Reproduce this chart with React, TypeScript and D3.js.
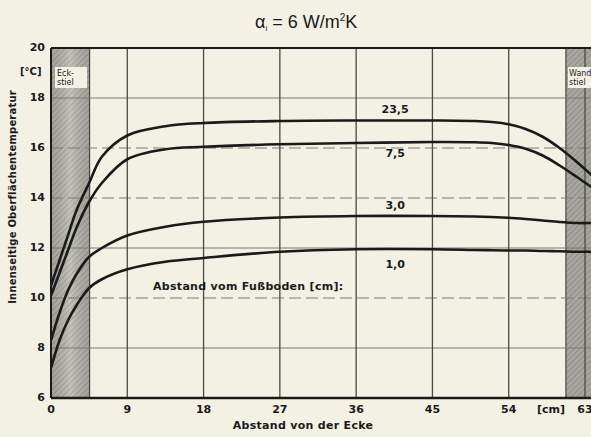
import * as d3 from "d3";

// Abstand von der Ecke [cm]
const xCm = [0, 1, 2, 3, 4.5, 6, 9, 13.5, 18, 27, 36, 45, 50, 52, 54, 56, 58, 60, 62, 64];
// Oberflächentemperatur [°C] je Abstand vom Fußboden
const t235 = [10.5, 11.5, 12.5, 13.5, 14.6, 15.65, 16.5, 16.87, 17.0, 17.08, 17.1, 17.1, 17.08, 17.04, 16.95, 16.76, 16.45, 16.0, 15.45, 14.85];
const t75 = [10.1, 11.0, 11.9, 12.8, 13.85, 14.6, 15.55, 15.95, 16.05, 16.15, 16.2, 16.24, 16.23, 16.2, 16.12, 15.97, 15.7, 15.3, 14.85, 14.38];
const t30 = [8.3, 9.4, 10.3, 10.95, 11.65, 12.0, 12.5, 12.85, 13.05, 13.22, 13.28, 13.28, 13.26, 13.24, 13.21, 13.16, 13.1, 13.04, 13.0, 13.0];
const t10 = [7.2, 8.3, 9.1, 9.7, 10.4, 10.75, 11.15, 11.45, 11.6, 11.85, 11.95, 11.95, 11.92, 11.91, 11.9, 11.9, 11.88, 11.87, 11.85, 11.85];
const seriesNames = ["23,5", "7,5", "3,0", "1,0"];
const seriesValues = [t235, t75, t30, t10];

const xTicks = [0, 9, 18, 27, 36, 45, 54, 63];
const yTicks = [6, 8, 10, 12, 14, 16, 18, 20];
const dashedY = [16, 14, 10];

const W = 591;
const H = 437;
const bg = "#f3f1e4";
const ink = "#1a1a1a";
const font = "'DejaVu Sans', 'Liberation Sans', sans-serif";

const x = d3.scaleLinear().domain([0, 63]).range([51, 585]);
const y = d3.scaleLinear().domain([6, 20]).range([398, 48]);

const labelOffsets = [-11, 11, -10, 16];

export default function App() {
  const line = d3
    .line<number>()
    .x((_, i) => x(xCm[i]))
    .y(d => y(d))
    .curve(d3.curveCatmullRom.alpha(0.5));

  const left = x(0);
  const eckEnd = x(4.55);
  const wandStart = x(60.75);

  return (
    <svg
      width={W}
      height={H}
      style={{ position: "absolute", left: 0, top: 0, background: bg }}
      fontFamily={font}
    >
      <defs>
        <pattern id="hatch" width="4" height="4" patternUnits="userSpaceOnUse" patternTransform="rotate(45)">
          <rect width="4" height="4" fill="#b6b5ad" />
          <line x1="0" y1="0" x2="0" y2="4" stroke="#807f78" strokeWidth="1" />
        </pattern>
        <linearGradient id="shade" x1="0" x2="1" y1="0" y2="0">
          <stop offset="0" stopColor="#000" stopOpacity="0.1" />
          <stop offset="0.5" stopColor="#fff" stopOpacity="0.18" />
          <stop offset="1" stopColor="#000" stopOpacity="0.1" />
        </linearGradient>
        <clipPath id="plot">
          <rect x={left} y={y(20)} width={W - left} height={y(6) - y(20)} />
        </clipPath>
      </defs>

      {/* title */}
      <text x={255} y={28} fontSize={18} fontFamily="'Liberation Sans', sans-serif" fill={ink}>
        α<tspan fontSize={8} dy={3}>i</tspan>
        <tspan dy={-3}> = 6 W/m</tspan>
        <tspan fontSize={10} dy={-7}>2</tspan>
        <tspan dy={7}>K</tspan>
      </text>

      {/* shaded post areas */}
      <rect x={left} y={y(20)} width={eckEnd - left} height={y(6) - y(20)} fill="url(#hatch)" />
      <rect x={left} y={y(20)} width={eckEnd - left} height={y(6) - y(20)} fill="url(#shade)" />
      <rect x={wandStart} y={y(20)} width={W - wandStart} height={y(6) - y(20)} fill="url(#hatch)" />
      <rect x={wandStart} y={y(20)} width={W - wandStart} height={y(6) - y(20)} fill="#000" opacity={0.08} />
      <line x1={eckEnd} x2={eckEnd} y1={y(20)} y2={y(6)} stroke="#444" strokeWidth={1.2} />
      <line x1={wandStart} x2={wandStart} y1={y(20)} y2={y(6)} stroke="#444" strokeWidth={1.2} />

      {/* horizontal grid */}
      {yTicks.slice(1, -1).map(t => (
        <line
          key={`h${t}`}
          x1={left}
          x2={W}
          y1={y(t)}
          y2={y(t)}
          stroke="#7a7973"
          strokeWidth={1}
          strokeDasharray={dashedY.includes(t) ? "12 5" : undefined}
        />
      ))}

      {/* vertical grid */}
      {xTicks.slice(1).map(t => (
        <line key={`v${t}`} x1={x(t)} x2={x(t)} y1={y(20)} y2={y(6)} stroke="#4a4944" strokeWidth={1.3} />
      ))}

      {/* frame */}
      <line x1={left} x2={W} y1={y(20)} y2={y(20)} stroke={ink} strokeWidth={2} />
      <line x1={left} x2={W} y1={y(6)} y2={y(6)} stroke={ink} strokeWidth={2.5} />
      <line x1={left} x2={left} y1={y(20)} y2={y(6)} stroke={ink} strokeWidth={2} />

      {/* post labels */}
      <rect x={55} y={67} width={32} height={21} fill={bg} />
      <text x={57} y={76} fontSize={8} fill={ink}>Eck-</text>
      <text x={57} y={85} fontSize={8} fill={ink}>stiel</text>
      <rect x={568} y={67} width={30} height={21} fill={bg} />
      <text x={569} y={76} fontSize={8} fill={ink}>Wand-</text>
      <text x={569} y={85} fontSize={8} fill={ink}>stiel</text>

      {/* curves */}
      <g clipPath="url(#plot)">
        {seriesValues.map((vals, i) => (
          <path key={seriesNames[i]} d={line(vals) ?? ""} fill="none" stroke={ink} strokeWidth={2.6} />
        ))}
      </g>
      {seriesNames.map((name, i) => (
        <text
          key={`l${name}`}
          x={x(40.6)}
          y={y(seriesValues[i][10]) + labelOffsets[i]}
          textAnchor="middle"
          dominantBaseline="middle"
          fontSize={11}
          fontWeight="bold"
          fill={ink}
        >
          {name}
        </text>
      ))}
      <text x={153} y={290} fontSize={11} fontWeight="bold" fill={ink} letterSpacing={0.3}>
        Abstand vom Fußboden [cm]:
      </text>

      {/* y axis */}
      {yTicks.map(t => (
        <text key={`yt${t}`} x={45} y={y(t)} textAnchor="end" dominantBaseline="middle" fontSize={11} fontWeight="bold" fill={ink}>
          {t}
        </text>
      ))}
      <text x={20} y={75} fontSize={10} fontWeight="bold" fill={ink}>[°C]</text>
      <text
        transform={`translate(13, 197) rotate(-90)`}
        textAnchor="middle"
        dominantBaseline="middle"
        fontSize={10}
        fontWeight="bold"
        fill={ink}
        letterSpacing={0.2}
      >
        Innenseitige Oberflächentemperatur
      </text>

      {/* x axis */}
      {xTicks.map(t => (
        <text key={`xt${t}`} x={x(t)} y={410} textAnchor="middle" dominantBaseline="middle" fontSize={11} fontWeight="bold" fill={ink}>
          {t}
        </text>
      ))}
      <text x={x(59)} y={410} textAnchor="middle" dominantBaseline="middle" fontSize={11} fontWeight="bold" fill={ink}>
        [cm]
      </text>
      <text x={303} y={426} textAnchor="middle" dominantBaseline="middle" fontSize={11} fontWeight="bold" fill={ink} letterSpacing={0.3}>
        Abstand von der Ecke
      </text>
    </svg>
  );
}
